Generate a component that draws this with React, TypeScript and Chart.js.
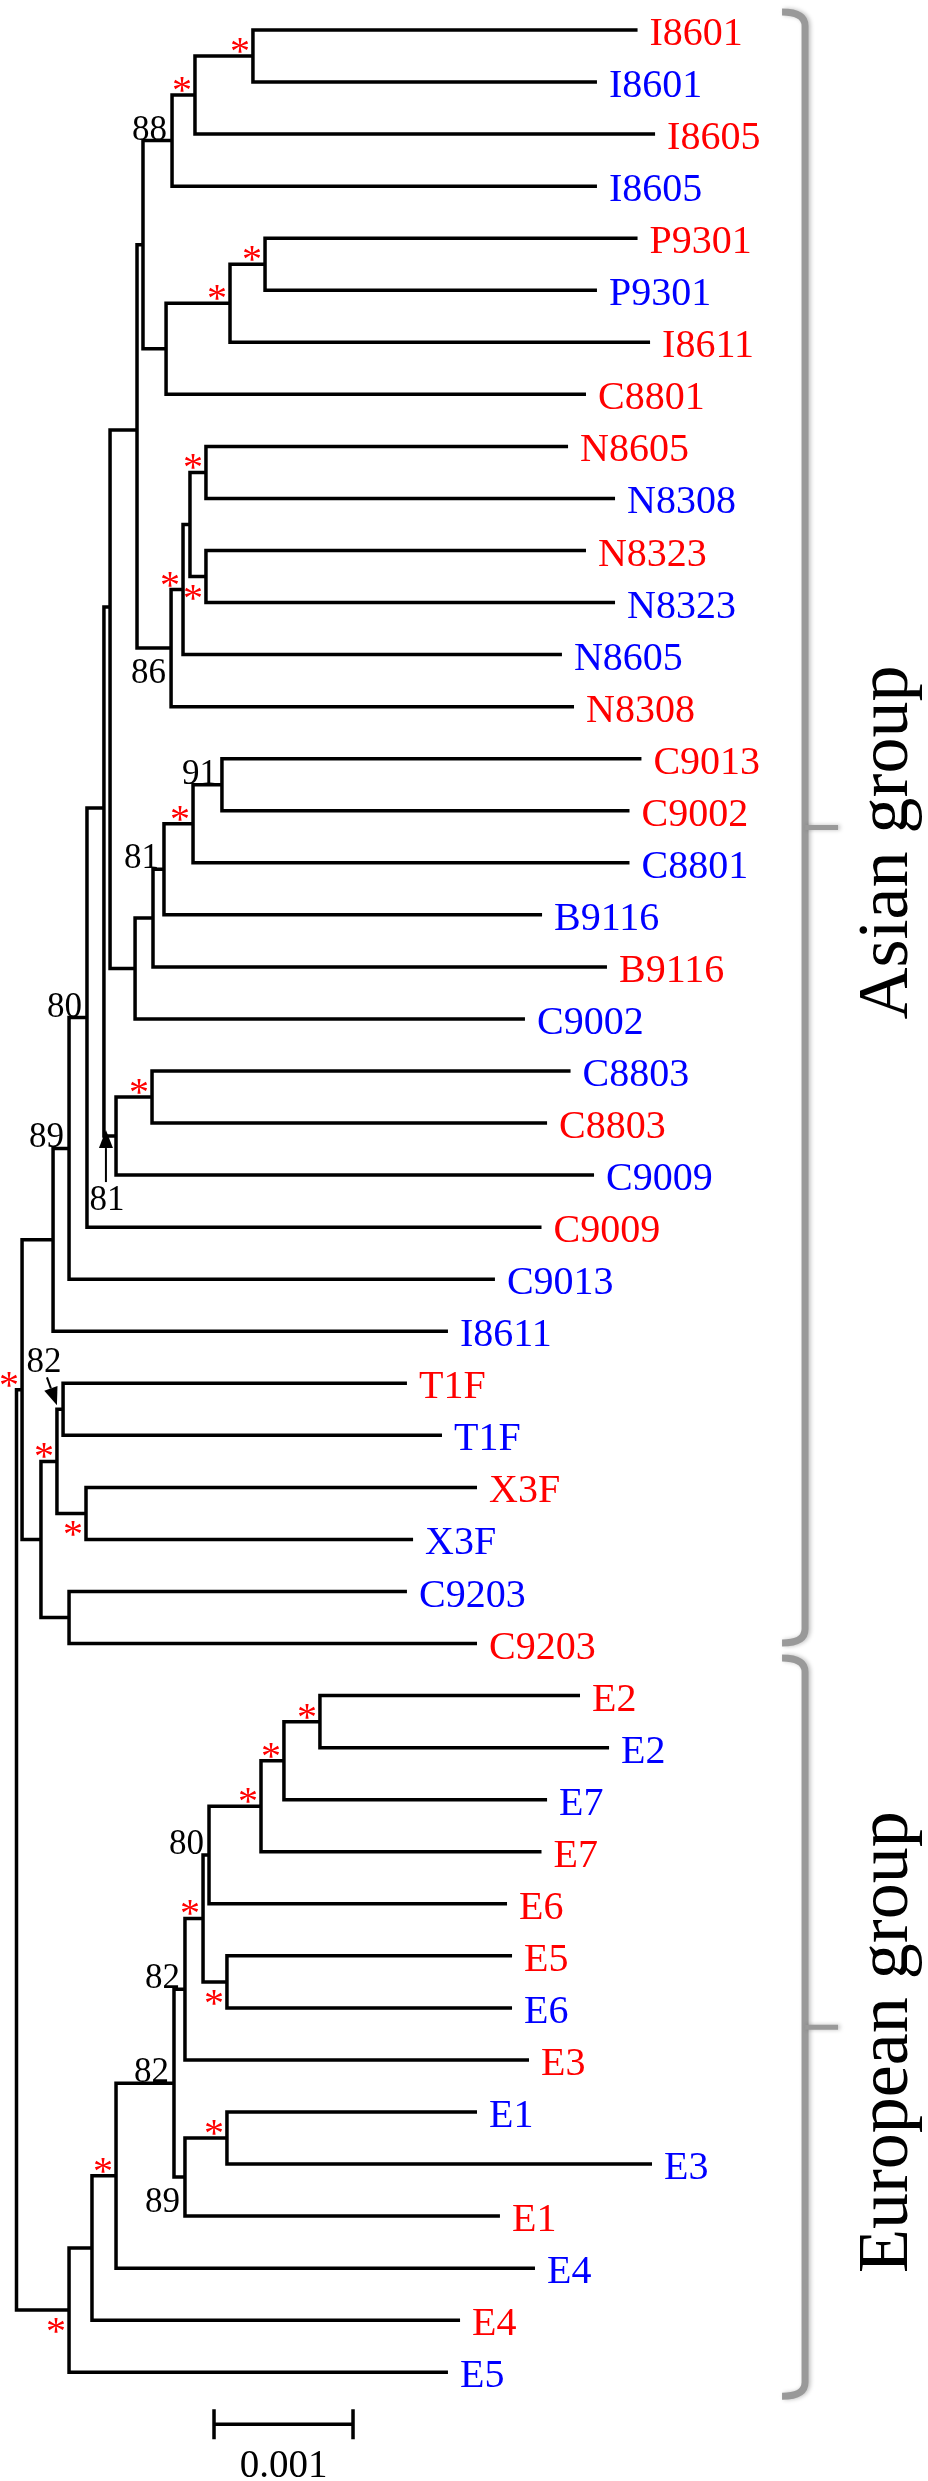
import React, { useEffect, useRef } from 'react';
import { Chart, registerables } from 'chart.js';
Chart.register(...registerables);

const W = 928;
const H = 2481;

// ---------- Leaves (top to bottom) ----------
const leafNames = ['I8601','I8601','I8605','I8605','P9301','P9301','I8611','C8801','N8605','N8308','N8323','N8323','N8605','N8308','C9013','C9002','C8801','B9116','B9116','C9002','C8803','C8803','C9009','C9009','C9013','I8611','T1F','T1F','X3F','X3F','C9203','C9203','E2','E2','E7','E7','E6','E5','E6','E3','E1','E3','E1','E4','E4','E5'];
const leafSeries = ['r','b','r','b','r','b','r','r','r','b','r','b','b','r','r','r','b','b','r','b','b','r','b','r','b','b','r','b','r','b','b','r','r','b','b','r','r','r','b','r','b','b','r','b','r','b'];
// distance from root, in units of 0.001 substitutions/site
const leafDepths = [4.468,4.176,4.594,4.176,4.468,4.176,4.558,4.097,3.968,4.306,4.097,4.306,3.924,4.011,4.496,4.410,4.410,3.781,4.248,3.658,3.986,3.817,4.155,3.777,3.442,3.104,2.809,3.061,3.313,2.853,2.809,3.313,4.054,4.263,3.817,3.777,3.529,3.565,3.565,3.687,3.313,4.572,3.478,3.730,3.191,3.104];

// ---------- Internal nodes (post-order) ----------
const nodeIds = ['n1','n2','n3','n4','n5','n6','nD','n8','n9','n10','n11','n86','nD2','n14','n15','n16','n17','n18','nE','n20','n21','nF','nG','n80','n89','n26','n27','n28','n29','n30','asia','e1','e2','e3','e4','e5','e6','e7','e8','e9','e10','e11','e12','e13','root'];
const nodeKids: (string | number)[][] = [[0,1],['n1',2],['n2',3],[4,5],['n4',6],['n5',7],['n3','n6'],[8,9],[10,11],['n8','n9'],['n10',12],['n11',13],['nD','n86'],[14,15],['n14',16],['n15',17],['n16',18],['n17',19],['nD2','n18'],[20,21],['n20',22],['nE','n21'],['nF',23],['nG',24],['n80',25],[26,27],[28,29],['n26','n27'],[30,31],['n28','n29'],['n89','n30'],[32,33],['e1',34],['e2',35],['e3',36],[37,38],['e4','e5'],['e6',39],[40,41],['e8',42],['e7','e9'],['e10',43],['e11',44],['e12',45],['asia','e13']];
const nodeDepths = [1.701,1.284,1.119,1.788,1.536,1.076,0.910,1.363,1.363,1.248,1.198,1.112,0.867,1.478,1.270,1.061,0.982,0.853,0.673,0.975,0.716,0.629,0.507,0.378,0.263,0.335,0.500,0.291,0.378,0.176,0.040,2.183,1.924,1.759,1.385,1.514,1.342,1.212,1.514,1.212,1.133,0.716,0.543,0.378,0];
const nodeSupport = ['*','*','88','*','*','','','*','*','','*','86','','91','*','81','','','','*','81','','80','89','','82','*','*','','','*','*','*','*','80','*','*','82','*','89','82','*','','*',''];
// a = above branch, b = below branch, u = arrow from below, d = diagonal arrow
const supportPlace = ['a','a','a','a','a','a','a','a','b','a','a','b','a','a','a','a','a','a','a','a','u','a','a','a','a','d','b','a','a','a','a','a','a','a','a','b','a','a','a','b','a','a','a','b','a'];
// rows where the original drawing attaches a few short internal branches
const rowOverrideIds = ['nD2','nE','nF'];
const rowOverrideRows = [7.685, 11.085, 14.947];

// ---------- Groups, scale bar ----------
const groupNames = ['Asian group', 'European group'];
const groupRowStart = [-0.346, 31.28];
const groupRowEnd = [30.99, 45.46];
const bracketDepth = 5.673;
const scaleBarStart = 1.421;
const scaleBarLength = 1;
const scaleBarLabel = '0.001';
const scaleBarRow = 46;

const RED = '#ff0000';
const BLUE = '#0000ff';
const SERIF = '"Liberation Serif", "Times New Roman", Times, serif';

// axis mapping
const X0_PX = 16.5, UNIT_PX = 139, ROW0_PX = 30, ROW_PX = 52.05;

type P = { x: number; y: number };

function buildTree() {
  const pos: Record<string, P> = {};
  const parent: Record<string, string> = {};
  leafNames.forEach((_, i) => { pos[String(i)] = { x: leafDepths[i], y: i }; });
  nodeIds.forEach((id, j) => {
    const kids = nodeKids[j].map((k) => pos[String(k)]);
    nodeKids[j].forEach((k) => { parent[String(k)] = id; });
    const oi = rowOverrideIds.indexOf(id);
    const y = oi >= 0 ? rowOverrideRows[oi] : (kids[0].y + kids[kids.length - 1].y) / 2;
    pos[id] = { x: nodeDepths[j], y };
  });
  return { pos, parent };
}

export default function App() {
  const ref = useRef<HTMLCanvasElement | null>(null);
  useEffect(() => {
    if (!ref.current) return;
    const { pos, parent } = buildTree();
    const datasets = nodeIds.map((id, j) => {
      const kids = nodeKids[j].map((k) => pos[String(k)]);
      const a = kids[0];
      const b = kids[kids.length - 1];
      const nx = nodeDepths[j];
      return {
        label: id,
        data: [{ x: a.x, y: a.y }, { x: nx, y: a.y }, { x: nx, y: b.y }, { x: b.x, y: b.y }],
        showLine: true,
        borderColor: '#000000',
        backgroundColor: '#000000',
        borderWidth: 3.5,
        pointRadius: 0,
        pointHoverRadius: 0,
        borderJoinStyle: 'miter' as const,
        borderCapStyle: 'butt' as const,
        tension: 0,
        fill: false,
        clip: false as const,
      };
    });

    const overlay = {
      id: 'treeOverlay',
      afterDatasetsDraw(chart: any) {
        const ctx: CanvasRenderingContext2D = chart.ctx;
        const xs = chart.scales.x;
        const ys = chart.scales.y;
        const px = (v: number) => xs.getPixelForValue(v);
        const py = (v: number) => ys.getPixelForValue(v);
        ctx.save();
        // leaf labels
        ctx.textAlign = 'left';
        ctx.textBaseline = 'alphabetic';
        ctx.font = `40px ${SERIF}`;
        leafNames.forEach((n, i) => {
          ctx.fillStyle = leafSeries[i] === 'r' ? RED : BLUE;
          ctx.fillText(n, px(leafDepths[i]) + 12, py(i) + 15);
        });
        // support values
        nodeIds.forEach((id, j) => {
          const s = nodeSupport[j];
          if (!s) return;
          const p = pos[id];
          const x = px(p.x);
          const y = py(p.y);
          const place = supportPlace[j];
          if (s === '*') {
            ctx.fillStyle = RED;
            ctx.font = `40px ${SERIF}`;
            ctx.textAlign = 'center';
            const cy = place === 'b' ? y + 14 : y - 12;
            ctx.fillText('*', x - 13, cy + 20);
            return;
          }
          ctx.fillStyle = '#000';
          ctx.strokeStyle = '#000';
          ctx.font = `35px ${SERIF}`;
          if (place === 'a' || place === 'b') {
            ctx.textAlign = 'right';
            const cy = place === 'b' ? y + 23 : y - 13;
            ctx.fillText(s, x - 5, cy + 12);
          } else {
            const par = pos[parent[id]];
            const parX = px(par.x);
            let tx: number, ty: number, sx: number, sy: number, lx: number, ly: number;
            if (place === 'u') {
              tx = parX + 2; ty = y - 6;
              sx = tx; sy = ty + 52;
              lx = tx + 1; ly = ty + 68;
            } else {
              tx = parX; ty = y - 4;
              sx = tx - 10; sy = ty - 28;
              lx = tx - 13; ly = ty - 45;
            }
            const dx = tx - sx, dy = ty - sy;
            const len = Math.hypot(dx, dy);
            const ux = dx / len, uy = dy / len;
            const hl = 18, hw = 7;
            const bx = tx - ux * hl, by = ty - uy * hl;
            ctx.lineWidth = 2;
            ctx.beginPath();
            ctx.moveTo(sx, sy);
            ctx.lineTo(bx, by);
            ctx.stroke();
            ctx.beginPath();
            ctx.moveTo(tx, ty);
            ctx.lineTo(bx - uy * hw, by + ux * hw);
            ctx.lineTo(bx + uy * hw, by - ux * hw);
            ctx.closePath();
            ctx.fill();
            ctx.textAlign = 'center';
            ctx.fillText(s, lx, ly + 12);
          }
        });
        // scale bar
        const sy0 = py(scaleBarRow);
        const sx0 = px(scaleBarStart);
        const sx1 = px(scaleBarStart + scaleBarLength);
        ctx.strokeStyle = '#000';
        ctx.lineWidth = 3.5;
        ctx.beginPath();
        ctx.moveTo(sx0, sy0); ctx.lineTo(sx1, sy0);
        ctx.moveTo(sx0, sy0 - 15); ctx.lineTo(sx0, sy0 + 15);
        ctx.moveTo(sx1, sy0 - 15); ctx.lineTo(sx1, sy0 + 15);
        ctx.stroke();
        ctx.fillStyle = '#000';
        ctx.font = `39px ${SERIF}`;
        ctx.textAlign = 'center';
        ctx.fillText(scaleBarLabel, (sx0 + sx1) / 2, sy0 + 53);
        // group brackets
        const bxp = px(bracketDepth);
        groupNames.forEach((g, k) => {
          const top = py(groupRowStart[k]);
          const bot = py(groupRowEnd[k]);
          const mid = (top + bot) / 2;
          ctx.save();
          ctx.strokeStyle = '#999999';
          ctx.shadowColor = 'rgba(0,0,0,0.25)';
          ctx.shadowBlur = 4;
          ctx.shadowOffsetX = 2;
          ctx.lineWidth = 7;
          ctx.lineJoin = 'round';
          ctx.beginPath();
          ctx.moveTo(bxp - 23, top);
          ctx.quadraticCurveTo(bxp, top, bxp, top + 14);
          ctx.lineTo(bxp, bot - 14);
          ctx.quadraticCurveTo(bxp, bot, bxp - 23, bot);
          ctx.stroke();
          ctx.lineWidth = 5;
          ctx.beginPath();
          ctx.moveTo(bxp, mid);
          ctx.lineTo(bxp + 33, mid);
          ctx.stroke();
          ctx.restore();
          ctx.save();
          ctx.translate(bxp + 102, mid + 15);
          ctx.rotate(-Math.PI / 2);
          ctx.fillStyle = '#000';
          ctx.font = `72px ${SERIF}`;
          ctx.textAlign = 'center';
          ctx.textBaseline = 'alphabetic';
          ctx.fillText(g, 0, 0);
          ctx.restore();
        });
        ctx.restore();
      },
    };

    const chart = new Chart(ref.current, {
      type: 'scatter',
      data: { datasets: datasets as any },
      options: {
        animation: false,
        responsive: false,
        devicePixelRatio: 1,
        events: [],
        layout: { padding: 0 },
        plugins: { legend: { display: false }, tooltip: { enabled: false } },
        scales: {
          x: { type: 'linear', display: false, min: -X0_PX / UNIT_PX, max: (W - X0_PX) / UNIT_PX },
          y: { type: 'linear', display: false, reverse: true, min: -ROW0_PX / ROW_PX, max: (H - ROW0_PX) / ROW_PX },
        },
      },
      plugins: [overlay],
    });
    return () => chart.destroy();
  }, []);

  return (
    <div style={{ position: 'absolute', left: 0, top: 0, width: W, height: H, background: '#fff' }}>
      <canvas ref={ref} width={W} height={H} style={{ display: 'block', width: W, height: H }} />
    </div>
  );
}
